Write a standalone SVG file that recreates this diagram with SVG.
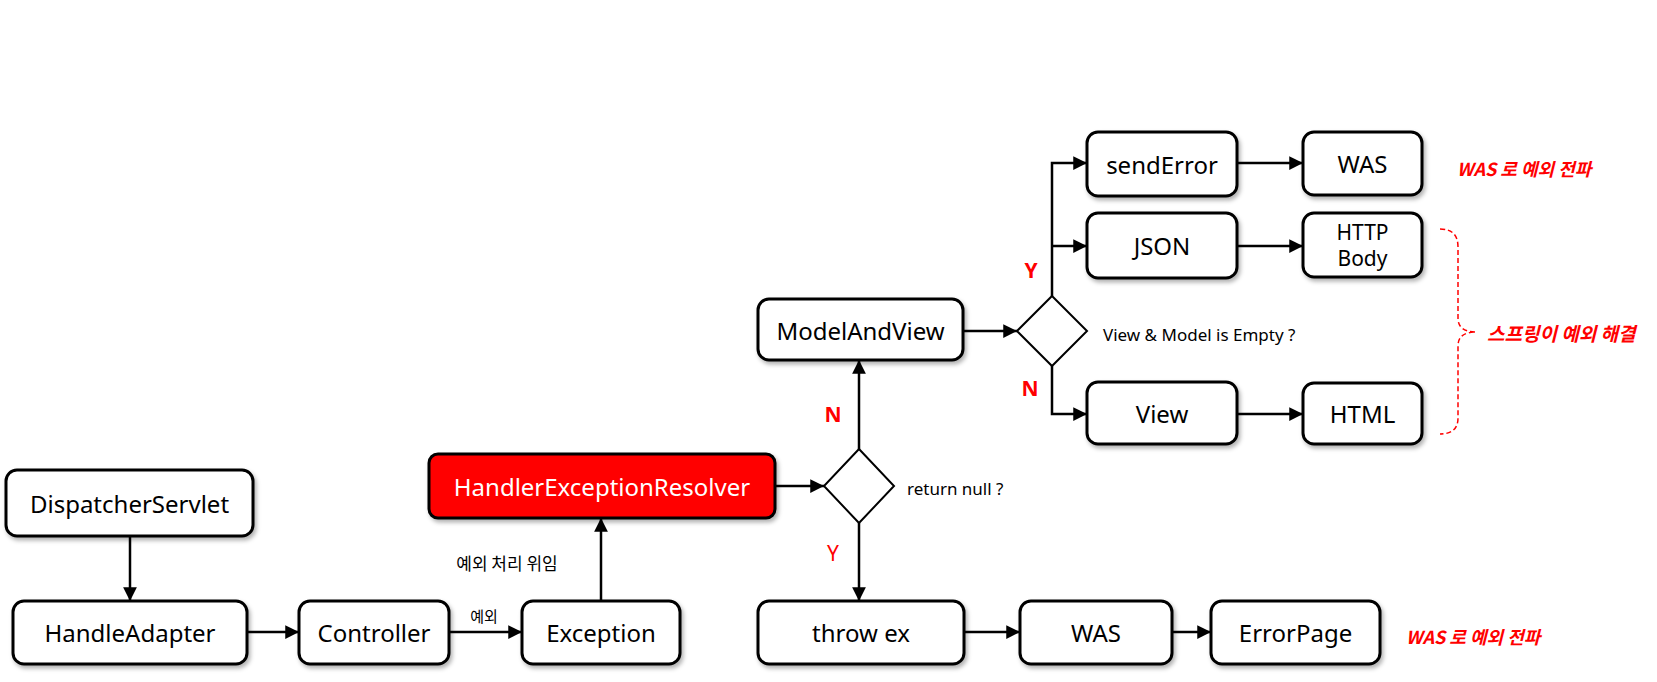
<svg xmlns="http://www.w3.org/2000/svg" width="1657" height="682" viewBox="0 0 1657 682">
<style>
.box{fill:#fff;stroke:#000;stroke-width:3;filter:url(#sh)}
.red{fill:#f00}
.dia{fill:#fff;stroke:#000;stroke-width:2}
.t{font-family:"Noto Sans","Noto Sans CJK KR",sans-serif;font-size:24px;text-anchor:middle;dominant-baseline:central;fill:#000}
.s{font-family:"Noto Sans","Noto Sans CJK KR",sans-serif;font-size:17px;dominant-baseline:central;fill:#000}
.k{font-family:"Noto Sans CJK KR",sans-serif;font-size:17px;text-anchor:middle;dominant-baseline:central;fill:#000}
.yn{font-family:"Noto Sans","Noto Sans CJK KR",sans-serif;font-size:21px;font-weight:bold;text-anchor:middle;dominant-baseline:central;fill:#f00}
.note{font-family:"Noto Sans CJK KR",sans-serif;font-size:18px;font-weight:bold;font-style:italic;dominant-baseline:central;fill:#f00}
.c{fill:none;stroke:#000;stroke-width:2.5;marker-end:url(#ar)}
</style>
<defs>
<filter id="sh" x="-10%" y="-20%" width="130%" height="150%">
<feDropShadow dx="2" dy="3" stdDeviation="2" flood-color="#000" flood-opacity="0.3"/>
</filter>
<marker id="ar" viewBox="0 0 10 10" refX="10" refY="5" markerWidth="5.5" markerHeight="5.5" orient="auto" markerUnits="strokeWidth">
<path d="M0,0 L10,5 L0,10 z" fill="#000"/>
</marker>
</defs>
<rect width="1657" height="682" fill="#fff"/>

<g id="connectors">
<path class="c" d="M130,536 V601"/>
<path class="c" d="M247,632 H299"/>
<path class="c" d="M449,632 H522"/>
<path class="c" d="M601,601 V518"/>
<path class="c" d="M775,486 H824"/>
<path class="c" d="M859,449 V360"/>
<path class="c" d="M859,523 V601"/>
<path class="c" d="M964,632 H1020"/>
<path class="c" d="M1172,632 H1211"/>
<path class="c" d="M963,331 H1017"/>
<path class="c" d="M1052,296 V163 H1087"/>
<path class="c" d="M1052,246 H1087"/>
<path class="c" d="M1052,366 V414 H1087"/>
<path class="c" d="M1237,163 H1303"/>
<path class="c" d="M1237,246 H1303"/>
<path class="c" d="M1237,414 H1303"/>
<text class="k" x="484" y="615" style="font-size:15px">예외</text>
<text class="k" x="507" y="562">예외 처리 위임</text>
<text class="yn" x="833" y="414">N</text>
<text class="yn" x="833" y="553" style="font-weight:normal">Y</text>
<text class="yn" x="1031" y="270">Y</text>
<text class="yn" x="1030" y="388">N</text>
</g>

<g id="DispatcherServlet"><rect class="box" x="6" y="470" width="247" height="66" rx="11"/><text class="t" x="129.5" y="503">DispatcherServlet</text></g>
<g id="HandleAdapter"><rect class="box" x="13" y="601" width="234" height="63" rx="11"/><text class="t" x="130" y="632">HandleAdapter</text></g>
<g id="Controller"><rect class="box" x="299" y="601" width="150" height="63" rx="11"/><text class="t" x="374" y="632">Controller</text></g>
<g id="Exception"><rect class="box" x="522" y="601" width="158" height="63" rx="11"/><text class="t" x="601" y="632">Exception</text></g>
<g id="HandlerExceptionResolver"><rect class="box red" x="429" y="454" width="346" height="64" rx="9"/><text class="t" x="602" y="486" style="fill:#fff">HandlerExceptionResolver</text></g>
<g id="returnNull"><path class="dia" d="M859,449 L894,486 L859,523 L824,486 z"/><text class="s" x="907" y="488">return null ?</text></g>
<g id="ModelAndView"><rect class="box" x="758" y="299" width="205" height="61" rx="11"/><text class="t" x="860.5" y="330">ModelAndView</text></g>
<g id="throwEx"><rect class="box" x="758" y="601" width="206" height="63" rx="11"/><text class="t" x="861" y="632">throw ex</text></g>
<g id="WAS2"><rect class="box" x="1020" y="601" width="152" height="63" rx="11"/><text class="t" x="1096" y="632">WAS</text></g>
<g id="ErrorPage"><rect class="box" x="1211" y="601" width="169" height="63" rx="11"/><text class="t" x="1295.5" y="632">ErrorPage</text></g>
<g id="note2"><text class="note" x="1406" y="636">WAS 로 예외 전파</text></g>
<g id="isEmpty"><path class="dia" d="M1052,296 L1087,331 L1052,366 L1017,331 z"/><text class="s" x="1103" y="334">View &amp; Model is Empty ?</text></g>
<g id="sendError"><rect class="box" x="1087" y="132" width="150" height="64" rx="11"/><text class="t" x="1162" y="164">sendError</text></g>
<g id="JSON"><rect class="box" x="1087" y="213" width="150" height="65" rx="11"/><text class="t" x="1162" y="245">JSON</text></g>
<g id="View"><rect class="box" x="1087" y="382" width="150" height="62" rx="11"/><text class="t" x="1162" y="413">View</text></g>
<g id="WAS1"><rect class="box" x="1303" y="132" width="119" height="63" rx="11"/><text class="t" x="1362.5" y="163">WAS</text></g>
<g id="HTTPBody"><rect class="box" x="1303" y="213" width="119" height="64" rx="11"/><text class="t" x="1362.5" y="232" style="font-size:21px">HTTP</text><text class="t" x="1362.5" y="258" style="font-size:21px">Body</text></g>
<g id="HTML"><rect class="box" x="1303" y="383" width="119" height="61" rx="11"/><text class="t" x="1362.5" y="413">HTML</text></g>
<g id="note1"><text class="note" x="1457" y="168">WAS 로 예외 전파</text></g>
<g id="brace">
<path d="M1440,229 Q1458,229 1458,247 L1458,318 Q1458,332 1476,332 Q1458,332 1458,346 L1458,418 Q1458,434 1440,434" fill="none" stroke="#f00" stroke-width="1.5" stroke-dasharray="5,3"/>
<text class="note" x="1487" y="332" style="font-size:19px">스프링이 예외 해결</text>
</g>
</svg>
